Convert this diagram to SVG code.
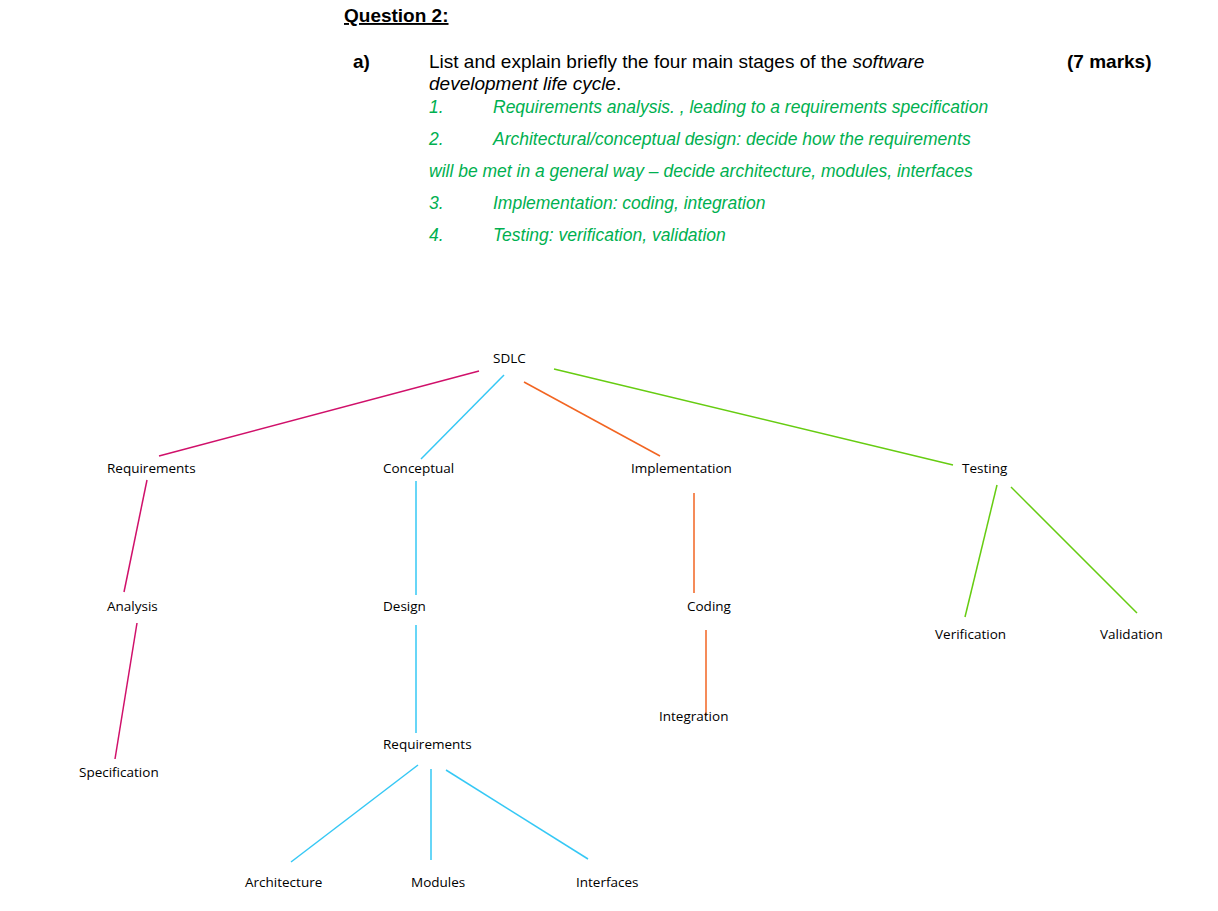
<svg xmlns="http://www.w3.org/2000/svg" width="1218" height="911" viewBox="0 0 1218 911">
<style>
.h{font-family:"Liberation Sans",Arial,sans-serif;font-size:19px;fill:#000}
.g{font-family:"Liberation Sans",Arial,sans-serif;font-size:17.5px;fill:#00b050;font-style:italic}
.n{font-family:"Open Sans","Liberation Sans",sans-serif;font-size:13.5px;fill:#000}
.m{stroke:#d0106a;stroke-width:1.5}
.c{stroke:#35c8f5;stroke-width:1.5}
.o{stroke:#f26522;stroke-width:1.5}
.l{stroke:#66cc11;stroke-width:1.5}
</style>
<rect width="1218" height="911" fill="#fff"/>
<text class="h" x="344" y="22" font-weight="bold" text-decoration="underline" font-size="20">Question 2:</text>
<text class="h" x="353" y="68" font-weight="bold">a)</text>
<text class="h" x="429" y="68">List and explain briefly the four main stages of the <tspan font-style="italic">software</tspan></text>
<text class="h" x="429" y="90" font-style="italic">development life cycle<tspan font-style="normal">.</tspan></text>
<text class="h" x="1067" y="68" font-weight="bold">(7 marks)</text>
<text class="g" x="429" y="113">1.</text><text class="g" x="493" y="113">Requirements analysis. , leading to a requirements specification</text>
<text class="g" x="429" y="145">2.</text><text class="g" x="493" y="145">Architectural/conceptual design: decide how the requirements</text>
<text class="g" x="429" y="177">will be met in a general way – decide architecture, modules, interfaces</text>
<text class="g" x="429" y="209">3.</text><text class="g" x="493" y="209">Implementation: coding, integration</text>
<text class="g" x="429" y="241">4.</text><text class="g" x="493" y="241">Testing: verification, validation</text>
<g id="connectors" fill="none">
<line class="m" x1="479" y1="371" x2="159" y2="456"/>
<line class="c" x1="504" y1="375" x2="421" y2="459"/>
<line class="o" x1="524" y1="382" x2="660" y2="456"/>
<line class="l" x1="554" y1="369" x2="953" y2="465"/>
<line class="m" x1="147" y1="480" x2="124" y2="592"/>
<line class="m" x1="137" y1="623" x2="115" y2="759"/>
<line class="c" x1="416" y1="481" x2="416" y2="595"/>
<line class="c" x1="416" y1="625" x2="416" y2="733"/>
<line class="o" x1="694" y1="493" x2="694" y2="593"/>
<line class="o" x1="706" y1="630" x2="706" y2="716"/>
<line class="l" x1="997" y1="485" x2="965" y2="617"/>
<line class="l" x1="1011" y1="487" x2="1137" y2="613"/>
<line class="c" x1="418" y1="765" x2="291" y2="862"/>
<line class="c" x1="431" y1="769" x2="431" y2="860"/>
<line class="c" x1="446" y1="770" x2="588" y2="859"/>
</g>
<g id="sdlc"><text class="n" x="493" y="363">SDLC</text></g>
<g id="requirements"><text class="n" x="107" y="473">Requirements</text></g>
<g id="conceptual"><text class="n" x="383" y="473">Conceptual</text></g>
<g id="implementation"><text class="n" x="631" y="473">Implementation</text></g>
<g id="testing"><text class="n" x="962" y="473">Testing</text></g>
<g id="analysis"><text class="n" x="107" y="611">Analysis</text></g>
<g id="design"><text class="n" x="383" y="611">Design</text></g>
<g id="coding"><text class="n" x="687" y="611">Coding</text></g>
<g id="verification"><text class="n" x="935" y="639">Verification</text></g>
<g id="validation"><text class="n" x="1100" y="639">Validation</text></g>
<g id="integration"><text class="n" x="659" y="721">Integration</text></g>
<g id="requirements2"><text class="n" x="383" y="749">Requirements</text></g>
<g id="specification"><text class="n" x="79" y="777">Specification</text></g>
<g id="architecture"><text class="n" x="245" y="887">Architecture</text></g>
<g id="modules"><text class="n" x="411" y="887">Modules</text></g>
<g id="interfaces"><text class="n" x="576" y="887">Interfaces</text></g>
</svg>
